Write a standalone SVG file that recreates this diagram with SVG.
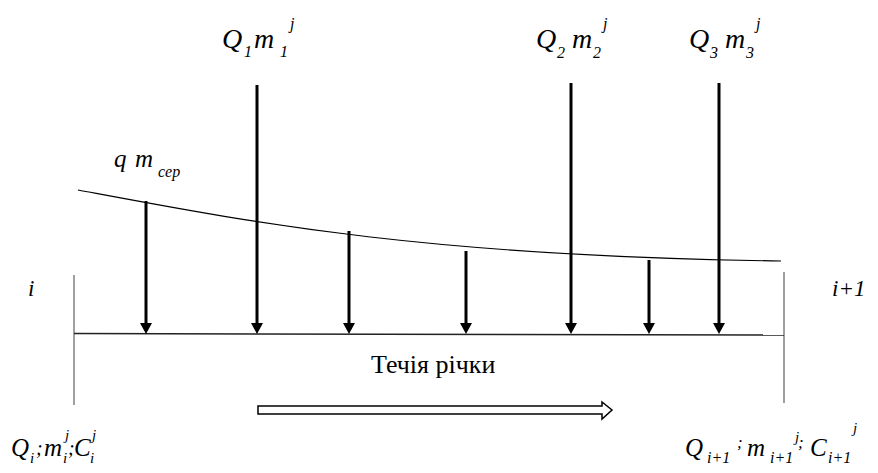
<svg xmlns="http://www.w3.org/2000/svg" width="878" height="473" viewBox="0 0 878 473">
<style>
text{font-family:'Liberation Serif','Times New Roman',serif;fill:#000}
.t{font-style:italic}
.big{font-size:28px}
.mid{font-size:25px}
.sm{font-size:16px}
.xs{font-size:15px}
.up{font-size:26px}
.semi{font-size:20px}
.semis{font-size:17px}
.shaft{stroke:#000;stroke-width:3;fill:none}
.side{stroke:#808080;stroke-width:1.5}
</style>
<defs>
<marker id="ah" markerUnits="userSpaceOnUse" markerWidth="12" markerHeight="12" refX="0" refY="6" orient="auto" viewBox="0 0 12 12">
<path d="M0,0 L11,6 L0,12 z" fill="#000"/>
</marker>
</defs>
<rect width="878" height="473" fill="#fff"/>

<g id="sections">
<line class="side" x1="74" y1="275" x2="74" y2="405"/>
<line class="side" x1="784" y1="272" x2="784" y2="403"/>
<line x1="74" y1="333.5" x2="784" y2="335" stroke="#222" stroke-width="1.5"/>
</g>

<g id="distributed-curve">
<path d="M78,190 C250,222 420,256 781,261" fill="none" stroke="#000" stroke-width="1.2"/>
</g>

<g id="connectors">
<line class="shaft" x1="257" y1="85" x2="257" y2="323" marker-end="url(#ah)"/>
<line class="shaft" x1="571" y1="83" x2="571" y2="323" marker-end="url(#ah)"/>
<line class="shaft" x1="719" y1="83" x2="719" y2="323" marker-end="url(#ah)"/>
<line class="shaft" x1="146" y1="201" x2="146" y2="323" marker-end="url(#ah)"/>
<line class="shaft" x1="349" y1="231" x2="349" y2="323" marker-end="url(#ah)"/>
<line class="shaft" x1="466" y1="251" x2="466" y2="323" marker-end="url(#ah)"/>
<line class="shaft" x1="649" y1="260" x2="649" y2="323" marker-end="url(#ah)"/>
</g>

<g id="flow-arrow">
<polygon points="258,406 602,406 602,402 612,410 602,419 602,414 258,414" fill="#fff" stroke="#000" stroke-width="1.5"/>
<text class="up" x="371" y="373">Течія річки</text>
</g>

<g id="label-q1">
<text class="t big" x="222" y="48">Q</text>
<text class="t sm" x="244" y="57">1</text>
<text class="t big" x="254" y="48">m</text>
<text class="t sm" x="280" y="57">1</text>
<text class="t sm" x="290" y="29">j</text>
</g>
<g id="label-q2">
<text class="t big" x="536" y="48">Q</text>
<text class="t sm" x="557" y="58">2</text>
<text class="t big" x="572" y="48">m</text>
<text class="t sm" x="593" y="58">2</text>
<text class="t sm" x="603" y="29">j</text>
</g>
<g id="label-q3">
<text class="t big" x="689" y="48">Q</text>
<text class="t sm" x="710" y="58">3</text>
<text class="t big" x="725" y="48">m</text>
<text class="t sm" x="746" y="58">3</text>
<text class="t sm" x="756" y="29">j</text>
</g>
<g id="label-q">
<text class="t mid" x="114" y="167">q</text>
<text class="t mid" x="135" y="167">m</text>
<text class="t sm" x="158" y="177">cep</text>
</g>
<g id="label-i">
<text class="t" font-size="23" x="28" y="296">i</text>
</g>
<g id="label-i1">
<text class="t" font-size="23" x="832" y="296">i+1</text>
</g>
<g id="label-bottom-left">
<text class="t mid" x="11" y="456">Q</text>
<text class="t xs" x="30" y="463">i</text>
<text class="t semi" x="36" y="455">;</text>
<text class="t mid" x="44" y="456">m</text>
<text class="t xs" x="65" y="440">j</text>
<text class="t xs" x="63" y="463">i</text>
<text class="t semi" x="68" y="455">;</text>
<text class="t mid" x="74" y="456">C</text>
<text class="t xs" x="92" y="440">j</text>
<text class="t xs" x="90" y="463">i</text>
</g>
<g id="label-bottom-right">
<text class="t mid" x="685" y="456">Q</text>
<text class="t sm" x="707" y="463">i+1</text>
<text class="t semis" x="737" y="448">;</text>
<text class="t mid" x="747" y="456">m</text>
<text class="t sm" x="770" y="463">i+1</text>
<text class="t xs" x="795" y="442">j</text>
<text class="t semis" x="798" y="448">;</text>
<text class="t mid" x="810" y="456">C</text>
<text class="t sm" x="828" y="463">i+1</text>
<text class="t xs" x="853" y="433">j</text>
</g>
</svg>
